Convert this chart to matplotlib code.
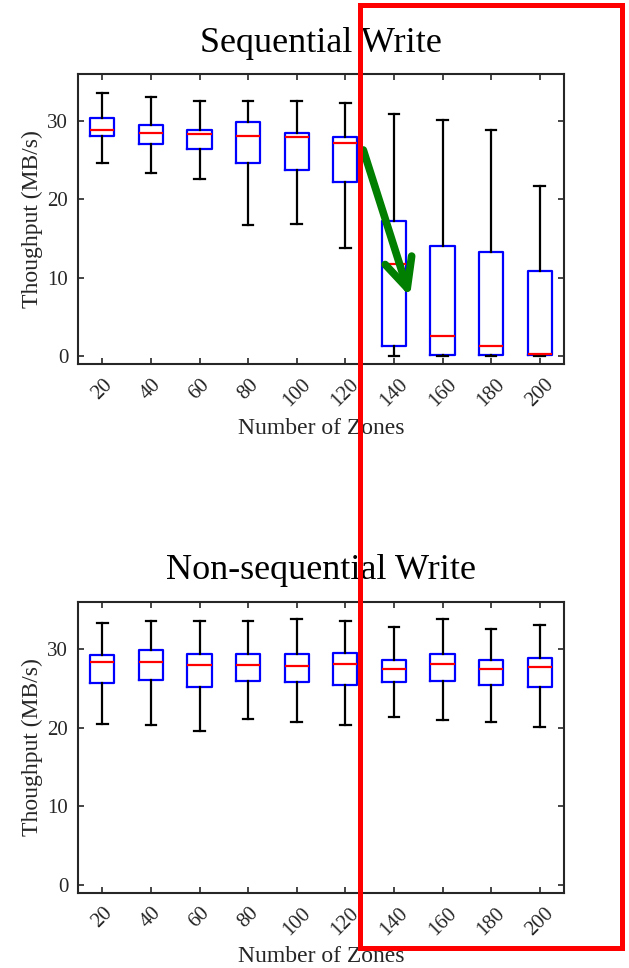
import matplotlib
matplotlib.use("Agg")
import matplotlib.pyplot as plt
from matplotlib.patches import Rectangle

plt.rcParams['font.family'] = ['Liberation Serif', 'DejaVu Serif']

zones = [20, 40, 60, 80, 100, 120, 140, 160, 180, 200]

# sequential write: whisker low, q1, median, q3, whisker high (MB/s)
seq_lo = [24.7, 23.4, 22.65, 16.75, 16.8, 13.8, 0.05, 0.0, 0.0, 0.05]
seq_q1 = [28.05, 27.0, 26.4, 24.6, 23.8, 22.2, 1.25, 0.2, 0.2, 0.2]
seq_med = [28.9, 28.5, 28.3, 28.1, 27.9, 27.2, 11.7, 2.6, 1.3, 0.3]
seq_q3 = [30.4, 29.5, 28.9, 29.9, 28.5, 27.9, 17.2, 14.1, 13.3, 10.8]
seq_hi = [33.6, 33.05, 32.5, 32.5, 32.5, 32.3, 30.9, 30.1, 28.85, 21.7]

# non-sequential write
nseq_lo = [20.5, 20.35, 19.5, 21.1, 20.65, 20.3, 21.4, 21.0, 20.7, 20.1]
nseq_q1 = [25.65, 26.1, 25.2, 25.95, 25.75, 25.45, 25.8, 25.95, 25.45, 25.2]
nseq_med = [28.3, 28.3, 27.9, 27.9, 27.8, 28.1, 27.5, 28.1, 27.5, 27.7]
nseq_q3 = [29.2, 29.9, 29.3, 29.3, 29.3, 29.5, 28.6, 29.3, 28.6, 28.9]
nseq_hi = [33.3, 33.6, 33.6, 33.6, 33.85, 33.6, 32.8, 33.85, 32.5, 33.1]


def make_stats(lo, q1, med, q3, hi):
    return [dict(whislo=a, q1=b, med=c, q3=d, whishi=e, fliers=[])
            for a, b, c, d, e in zip(lo, q1, med, q3, hi)]


def draw_box(ax, stats, title):
    ax.bxp(stats, positions=range(1, len(stats) + 1), widths=0.5,
           capwidths=0.22, showfliers=False,
           boxprops=dict(color='#0000ff', linewidth=1.6),
           medianprops=dict(color='#ff0000', linewidth=1.6),
           whiskerprops=dict(color='black', linewidth=1.6),
           capprops=dict(color='black', linewidth=1.6))
    ax.set_xlim(0.5, len(stats) + 0.5)
    ax.set_ylim(-1, 36)
    ax.set_yticks([0, 10, 20, 30])
    ax.set_xticks(range(1, len(stats) + 1))
    ax.set_xticklabels([str(z) for z in zones], rotation=45, ha='center')
    ax.tick_params(direction='in', length=4, width=1.2, top=True, right=True,
                   labelsize=15, colors='#262626')
    ax.tick_params(axis='x', pad=8)
    ax.tick_params(axis='y', pad=7)
    for s in ax.spines.values():
        s.set_linewidth(1.5)
        s.set_color('#262626')
    ax.set_ylabel('Thoughput (MB/s)', fontsize=17, color='#262626', labelpad=3)
    ax.set_xlabel('Number of Zones', fontsize=17, color='#262626', labelpad=5)
    ax.set_title(title, fontsize=26, pad=16)


fig = plt.figure(figsize=(6.29, 9.68), dpi=100)
ax1 = fig.add_axes([0.124, 0.624, 0.7727, 0.2996])
ax2 = fig.add_axes([0.124, 0.0778, 0.7727, 0.3006])

draw_box(ax1, make_stats(seq_lo, seq_q1, seq_med, seq_q3, seq_hi), 'Sequential Write')
draw_box(ax2, make_stats(nseq_lo, nseq_q1, nseq_med, nseq_q3, nseq_hi), 'Non-sequential Write')

# green arrow showing the throughput drop
ax1.annotate('', xy=(7.33, 7.6), xytext=(6.37, 26.3),
             arrowprops=dict(arrowstyle='->,head_length=1.05,head_width=0.5',
                             color='#007f00', linewidth=5.5, mutation_scale=20,
                             shrinkA=0, shrinkB=0),
             annotation_clip=False)

# red highlight box around zones >= 140
fig.patches.append(Rectangle((0.5723, 0.0207), 0.416, 0.974, fill=False,
                             edgecolor='#ff0000', linewidth=3.6,
                             transform=fig.transFigure, figure=fig, zorder=10))

fig.savefig('out.png', dpi=100, facecolor='white')
